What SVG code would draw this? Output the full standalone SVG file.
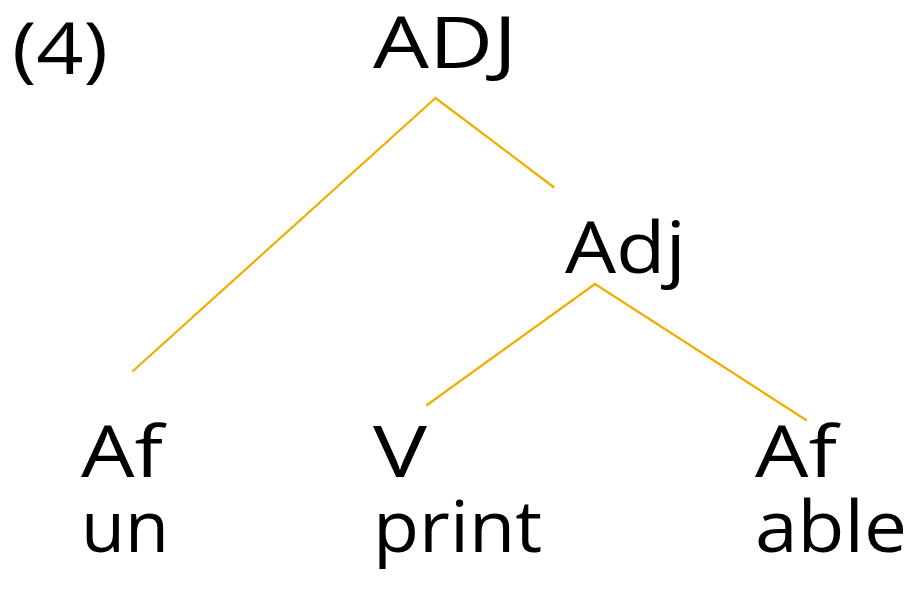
<svg xmlns="http://www.w3.org/2000/svg" width="913" height="598" viewBox="0 0 913 598">
<style>
text{font-family:"Open Sans","Noto Sans","Liberation Sans",sans-serif;font-size:72px;fill:#000}
.e{stroke:#EFAE00;stroke-width:2.2;fill:none;stroke-linecap:round}
</style>
<rect width="913" height="598" fill="#fff"/>
<text x="12" y="74" textLength="96" lengthAdjust="spacingAndGlyphs">(4)</text>
<g id="n-ADJ"><text x="373" y="68" textLength="144" lengthAdjust="spacingAndGlyphs">ADJ</text></g>
<g id="n-Adj"><text x="565" y="273" textLength="121" lengthAdjust="spacingAndGlyphs">Adj</text></g>
<g id="n-Af1"><text x="81" y="477" textLength="82" lengthAdjust="spacingAndGlyphs">Af</text><text x="81" y="552" textLength="88" lengthAdjust="spacingAndGlyphs">un</text></g>
<g id="n-V"><text x="373" y="477" textLength="54" lengthAdjust="spacingAndGlyphs">V</text><text x="373" y="552" textLength="169" lengthAdjust="spacingAndGlyphs">print</text></g>
<g id="n-Af2"><text x="755" y="477" textLength="82" lengthAdjust="spacingAndGlyphs">Af</text><text x="755" y="552" textLength="152" lengthAdjust="spacingAndGlyphs">able</text></g>
<g id="edges">
<line class="e" x1="435.5" y1="98" x2="553.5" y2="187"/>
<line class="e" x1="435.5" y1="98" x2="133" y2="371"/>
<line class="e" x1="595" y1="284" x2="427" y2="405"/>
<line class="e" x1="595" y1="284" x2="806" y2="420"/>
</g>
</svg>
